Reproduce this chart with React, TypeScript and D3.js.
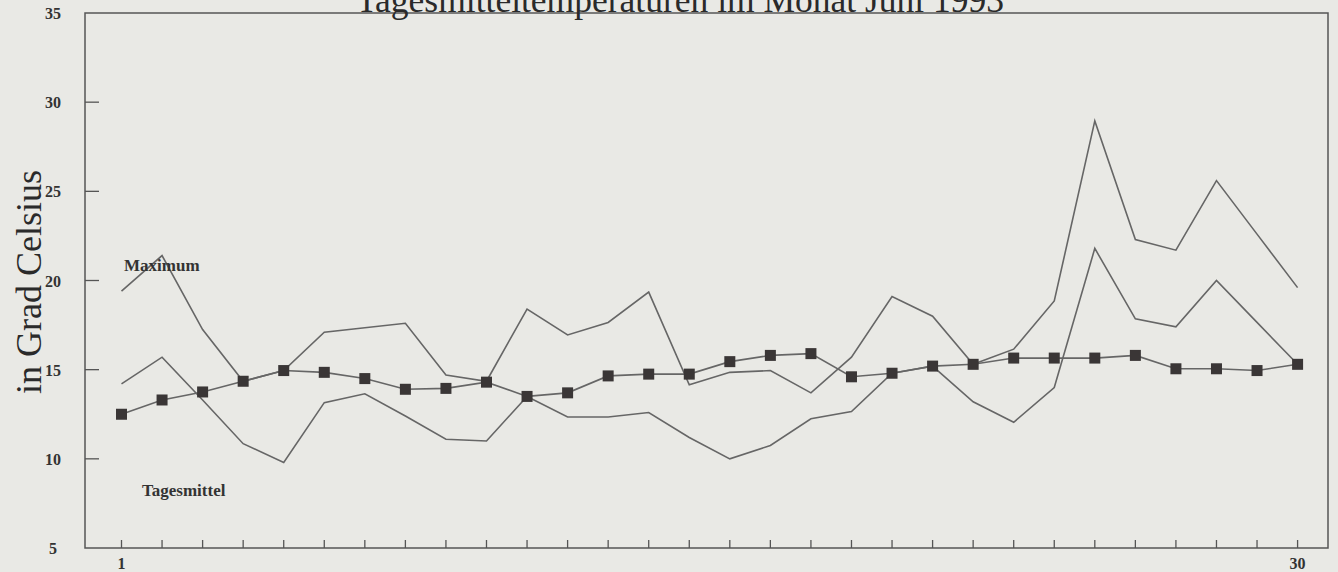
import React, { useEffect, useRef } from "react";
import * as d3 from "d3";

const days = d3.range(1, 31);

const maxTemp = [19.4, 21.4, 17.25, 14.35, 14.95, 17.1, 17.35, 17.6, 14.7, 14.35, 18.4, 16.95, 17.65, 19.35, 14.15, 14.85, 14.95, 13.7, 15.7, 19.1, 18.0, 15.3, 16.15, 18.85, 28.95, 22.3, 21.7, 25.6, 22.6, 19.6];
const dayMean = [14.2, 15.7, 13.3, 10.85, 9.8, 13.15, 13.65, 12.4, 11.1, 11.0, 13.5, 12.35, 12.35, 12.6, 11.2, 10.0, 10.75, 12.25, 12.65, 14.8, 15.2, 13.2, 12.05, 14.0, 21.8, 17.85, 17.4, 20.0, 17.65, 15.3];
const longMean = [12.5, 13.3, 13.75, 14.35, 14.95, 14.85, 14.5, 13.9, 13.95, 14.3, 13.5, 13.7, 14.65, 14.75, 14.75, 15.45, 15.8, 15.9, 14.6, 14.8, 15.2, 15.3, 15.65, 15.65, 15.65, 15.8, 15.05, 15.05, 14.95, 15.3];

const yTicks = [10, 15, 20, 25, 30];
const yLabels = [5, 10, 15, 20, 25, 30, 35];
const xLabels = [1, 30];

const W = 1338;
const H = 572;

const App = () => {
  const ref = useRef<SVGSVGElement>(null);

  useEffect(() => {
    const svg = d3.select(ref.current);
    svg.selectAll("*").remove();

    const left = 85, right = 1328, top = 13, bottom = 548;

    const x = d3.scaleLinear().domain([0.1, 30.75]).range([left, right]);
    const y = d3.scaleLinear().domain([5, 35]).range([bottom, top]);

    svg.append("rect").attr("width", W).attr("height", H).attr("fill", "#e9e9e5");

    // frame
    svg.append("rect")
      .attr("x", left).attr("y", top)
      .attr("width", right - left).attr("height", bottom - top)
      .attr("fill", "none").attr("stroke", "#555").attr("stroke-width", 1.5);

    // title (cut at the top edge as in the scan)
    svg.append("text")
      .attr("x", 680).attr("y", 12)
      .attr("text-anchor", "middle")
      .attr("font-family", "Liberation Serif, serif")
      .attr("font-size", 35.5)
      .attr("fill", "#2a2a2a")
      .text("Tagesmitteltemperaturen im Monat Juni 1993");

    // y ticks, inward
    svg.append("g").selectAll("line").data(yTicks).enter().append("line")
      .attr("x1", left).attr("x2", left + 14)
      .attr("y1", d => y(d)).attr("y2", d => y(d))
      .attr("stroke", "#555").attr("stroke-width", 1.3);

    svg.append("g").selectAll("text").data(yLabels).enter().append("text")
      .attr("x", 53).attr("y", d => y(d) + 6)
      .attr("text-anchor", "middle")
      .attr("font-family", "Liberation Serif, serif")
      .attr("font-weight", "bold")
      .attr("font-size", 16)
      .attr("fill", "#333")
      .text(d => d);

    // x ticks, upward
    svg.append("g").selectAll("line").data(days).enter().append("line")
      .attr("x1", d => x(d)).attr("x2", d => x(d))
      .attr("y1", bottom).attr("y2", bottom - 8)
      .attr("stroke", "#555").attr("stroke-width", 1.3);

    svg.append("g").selectAll("text").data(xLabels).enter().append("text")
      .attr("x", d => x(d)).attr("y", 569)
      .attr("text-anchor", "middle")
      .attr("font-family", "Liberation Serif, serif")
      .attr("font-weight", "bold")
      .attr("font-size", 16)
      .attr("fill", "#333")
      .text(d => d);

    // y axis title
    svg.append("text")
      .attr("transform", "translate(41,282) rotate(-90)")
      .attr("text-anchor", "middle")
      .attr("font-family", "Liberation Serif, serif")
      .attr("font-size", 36)
      .attr("fill", "#2a2a2a")
      .text("in Grad Celsius");

    const line = d3.line<number>()
      .x((_, i) => x(days[i]))
      .y(d => y(d));

    [maxTemp, dayMean, longMean].forEach(series => {
      svg.append("path")
        .attr("d", line(series))
        .attr("fill", "none")
        .attr("stroke", "#666")
        .attr("stroke-width", 1.6);
    });

    const s = 11;
    svg.append("g").selectAll("rect").data(longMean).enter().append("rect")
      .attr("x", (_, i) => x(days[i]) - s / 2)
      .attr("y", d => y(d) - s / 2)
      .attr("width", s).attr("height", s)
      .attr("fill", "#3a3636");

    svg.append("text")
      .attr("x", 124).attr("y", 271)
      .attr("font-family", "Liberation Serif, serif")
      .attr("font-weight", "bold")
      .attr("font-size", 17)
      .attr("fill", "#333")
      .text("Maximum");

    svg.append("text")
      .attr("x", 142).attr("y", 496)
      .attr("font-family", "Liberation Serif, serif")
      .attr("font-weight", "bold")
      .attr("font-size", 17)
      .attr("fill", "#333")
      .text("Tagesmittel");
  }, []);

  return (
    <svg ref={ref} width={W} height={H}
      style={{ position: "absolute", left: 0, top: 0, display: "block" }} />
  );
};

export default App;
